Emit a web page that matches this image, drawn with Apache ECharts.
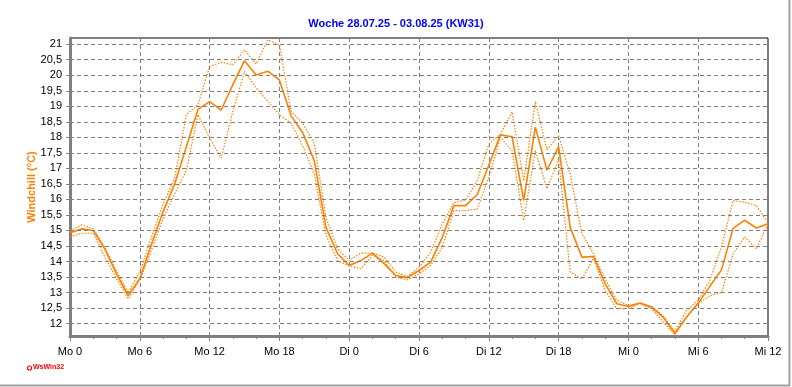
<!DOCTYPE html>
<html><head><meta charset="utf-8">
<script src="https://cdn.jsdelivr.net/npm/echarts@6/dist/echarts.min.js"></script>
<style>html,body{margin:0;padding:0;background:#fff}#c{width:792px;height:387px}</style>
</head><body><div id="c"></div>
<script>
const titleText = "Woche 28.07.25 - 03.08.25 (KW31)";
const yAxisName = "Windchill (°C)";
const logoText = "WsWin32";
const hours = [0,1,2,3,4,5,6,7,8,9,10,11,12,13,14,15,16,17,18,19,20,21,22,23,24,25,26,27,28,29,30,31,32,33,34,35,36,37,38,39,40,41,42,43,44,45,46,47,48,49,50,51,52,53,54,55,56,57,58,59,60];
const xTickLabels = ["Mo 0","Mo 6","Mo 12","Mo 18","Di 0","Di 6","Di 12","Di 18","Mi 0","Mi 6","Mi 12"];
const yTickValues = [12,12.5,13,13.5,14,14.5,15,15.5,16,16.5,17,17.5,18,18.5,19,19.5,20,20.5,21];
const windchill = [14.93,15.05,15.0,14.4,13.6,12.9,13.45,14.55,15.6,16.5,17.7,18.9,19.15,18.88,19.7,20.47,20.01,20.13,19.85,18.7,18.15,17.25,15.1,14.25,13.87,14.03,14.27,13.93,13.55,13.48,13.71,13.98,14.78,15.8,15.8,16.15,17.1,18.08,18.02,15.97,18.33,16.94,17.7,15.1,14.14,14.16,13.28,12.64,12.55,12.66,12.53,12.2,11.68,12.21,12.66,13.2,13.73,15.07,15.33,15.08,15.22];
const windchillHigh = [15.0,15.18,15.06,14.45,13.7,12.99,13.67,14.78,15.85,16.7,18.73,19.05,20.28,20.42,20.34,20.82,20.36,21.14,20.98,18.84,18.46,17.8,15.43,14.41,14.03,14.27,14.27,14.14,13.66,13.52,13.82,14.3,15.21,15.9,15.98,16.6,17.78,18.1,18.82,16.6,19.15,17.6,18.05,16.82,14.89,14.25,13.44,12.75,12.59,12.66,12.55,12.25,11.75,12.43,12.75,13.4,14.46,15.96,15.91,15.8,15.25];
const windchillLow = [14.8,14.91,14.91,14.14,13.45,12.8,13.4,14.36,15.37,16.18,16.93,18.73,17.98,17.33,18.84,20.12,19.59,19.16,18.73,18.46,17.73,16.82,14.84,14.03,13.85,13.77,14.2,14.03,13.5,13.41,13.6,13.87,14.46,15.64,15.64,15.69,16.71,18.0,17.57,15.32,17.57,16.34,17.3,13.66,13.44,14.09,13.07,12.48,12.48,12.64,12.48,12.05,11.64,12.21,12.64,12.9,13.0,14.25,14.79,14.41,15.21];

const pair = arr => hours.map((h, i) => [h, arr[i]]);
const orange = '#FF8000';
const font = 'Liberation Sans, Arial, sans-serif';
const chart = echarts.init(document.getElementById('c'), null, {renderer: 'canvas'});
chart.setOption({
  animation: false,
  backgroundColor: '#fff',
  title: {
    text: titleText, left: 'center', top: 13,
    textStyle: {color: '#0000FF', fontSize: 11, fontWeight: 'bold', fontFamily: font}
  },
  grid: {left: 70, right: 24, top: 38, bottom: 51, show: true, borderColor: '#000', borderWidth: 1, backgroundColor: 'transparent'},
  xAxis: {
    type: 'value', min: 0, max: 60, interval: 6,
    axisLine: {show: true, onZero: false, lineStyle: {color: '#808080', width: 3}},
    axisTick: {show: true, length: 5, lineStyle: {color: '#808080', width: 1}},
    minorTick: {show: true, splitNumber: 3, length: 3, lineStyle: {color: '#808080', width: 1}},
    axisLabel: {color: '#000', fontSize: 11, margin: 10, fontFamily: font,
      formatter: v => xTickLabels[Math.round(v / 6)] || ''},
    splitLine: {show: true, lineStyle: {color: '#808080', type: [4, 3], width: 1}}
  },
  yAxis: {
    type: 'value', min: 11.6, max: 21.2,
    name: yAxisName, nameLocation: 'middle', nameRotate: 90, nameGap: 33, nameMoveOverlap: false,
    nameTextStyle: {color: orange, fontSize: 11, fontWeight: 'bold', fontFamily: font},
    axisLine: {show: true, lineStyle: {color: '#808080', width: 3}},
    axisTick: {show: true, length: 4, customValues: yTickValues, lineStyle: {color: '#808080', width: 1}},
    axisLabel: {color: '#000', fontSize: 11, margin: 8, customValues: yTickValues, fontFamily: font,
      formatter: v => String(v).replace('.', ',')},
    splitLine: {show: false}
  },
  series: [
    {type: 'line', data: [], z: 1, silent: true,
      markLine: {silent: true, symbol: 'none', animation: false, label: {show: false},
        lineStyle: {color: '#808080', type: [4, 3], width: 1},
        emphasis: {disabled: true},
        data: yTickValues.map(v => ({yAxis: v}))}},
    {type: 'line', data: pair(windchillHigh), symbol: 'none', lineStyle: {color: orange, width: 1.2, type: [1.5, 1.5]}, z: 2},
    {type: 'line', data: pair(windchillLow), symbol: 'none', lineStyle: {color: orange, width: 1.2, type: [1.5, 1.5]}, z: 2},
    {type: 'line', data: pair(windchill), symbol: 'none', lineStyle: {color: orange, width: 1.6}, z: 3}
  ],
  graphic: [
    {type: 'line', shape: {x1: 789.5, y1: 0, x2: 789.5, y2: 386}, style: {stroke: '#a0a0a0', lineWidth: 2}},
    {type: 'line', shape: {x1: 0, y1: 385.5, x2: 790, y2: 385.5}, style: {stroke: '#a0a0a0', lineWidth: 2}},
    {type: 'circle', shape: {cx: 29.5, cy: 368, r: 2}, style: {stroke: '#ff0000', fill: '#fff', lineWidth: 1.2}},
    {type: 'text', x: 33, y: 364, style: {text: logoText, fill: '#ff0000', fontSize: 7, fontWeight: 'bold', fontFamily: font}}
  ]
});
</script>
</body></html>
